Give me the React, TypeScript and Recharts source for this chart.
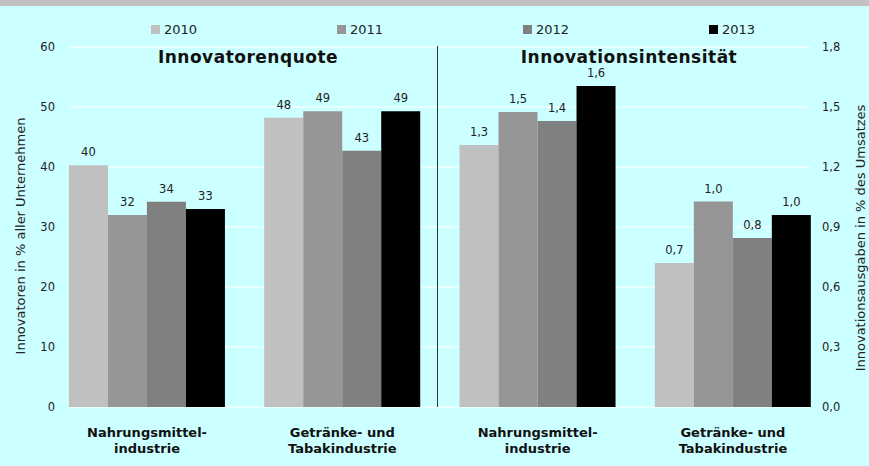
import React from 'react';
import { BarChart, Bar, XAxis, YAxis, CartesianGrid, LabelList } from 'recharts';

const categories = [
  'Nahrungsmittel-\nindustrie',
  'Getränke- und\nTabakindustrie',
  'Nahrungsmittel-\nindustrie',
  'Getränke- und\nTabakindustrie',
];
const years = ['2010', '2011', '2012', '2013'];
const colors = ['#c0c0c0', '#969696', '#808080', '#000000'];

// Innovatorenquote (%), per year 2010..2013
const quoteNahrung = [40.3, 32.0, 34.2, 33.0];
const quoteGetraenke = [48.2, 49.3, 42.7, 49.3];
// Innovationsintensität (% des Umsatzes), per year 2010..2013
const intensNahrung = [1.31, 1.475, 1.43, 1.605];
const intensGetraenke = [0.72, 1.027, 0.845, 0.96];

const leftTicks = [0, 10, 20, 30, 40, 50, 60];
const rightTicks = [0, 0.3, 0.6, 0.9, 1.2, 1.5, 1.8];
const panelTitles = ['Innovatorenquote', 'Innovationsintensität'];
const leftAxisTitle = 'Innovatoren in % aller Unternehmen';
const rightAxisTitle = 'Innovationsausgaben in % des Umsatzes';

const FONT = '"DejaVu Sans", Verdana, sans-serif';
const W = 869;
const H = 466;

const rows = categories.map((name, i) => {
  const row: Record<string, any> = { name };
  years.forEach((y, k) => {
    row[`L${y}`] = i === 0 ? quoteNahrung[k] : i === 1 ? quoteGetraenke[k] : null;
    row[`R${y}`] = i === 2 ? intensNahrung[k] : i === 3 ? intensGetraenke[k] : null;
  });
  return row;
});

const fmtLeft = (v: any) => (v == null ? '' : String(Math.round(Number(v))));
const fmtRight = (v: any) => (v == null ? '' : Number(v).toFixed(1).replace('.', ','));

const CategoryTick = (props: any) => {
  const { x, y, payload } = props;
  const lines = String(payload.value).split('\n');
  return (
    <text x={x} textAnchor="middle" fontFamily={FONT} fontWeight="bold" fontSize={13} fill="#111">
      {lines.map((l, i) => (
        <tspan key={i} x={x} y={y + 22 + i * 16}>
          {l}
        </tspan>
      ))}
    </text>
  );
};

export default function App() {
  return (
    <div style={{ position: 'relative', width: W, height: H, background: '#ccffff', overflow: 'hidden' }}>
      <style>{'body{margin:0}'}</style>
      <div style={{ position: 'absolute', left: 0, top: 0, width: W, height: 6, background: '#c0c0c0' }} />
      <div style={{ position: 'absolute', left: 0, top: 0 }}>
        <BarChart
          width={W}
          height={H}
          data={rows}
          margin={{ top: 47, right: 0, bottom: 0, left: 0 }}
          barCategoryGap="10%"
          barGap={0}
        >
          <CartesianGrid yAxisId="left" vertical={false} stroke="#ffffff" strokeWidth={1} />
          <XAxis
            dataKey="name"
            height={59}
            axisLine={false}
            tickLine={false}
            interval={0}
            padding={{ left: -19.6, right: -20.6 }}
            tick={<CategoryTick />}
          />
          <YAxis
            yAxisId="left"
            orientation="left"
            width={69}
            domain={[0, 60]}
            ticks={leftTicks}
            axisLine={false}
            tickLine={false}
            tickMargin={8}
            tick={{ fontFamily: FONT, fontSize: 11.5, fill: '#222' }}
          />
          <YAxis
            yAxisId="right"
            orientation="right"
            width={59}
            domain={[0, 1.8]}
            ticks={rightTicks}
            axisLine={false}
            tickLine={false}
            tickMargin={6}
            tickFormatter={(v: number) => v.toFixed(1).replace('.', ',')}
            tick={{ fontFamily: FONT, fontSize: 11.5, fill: '#222' }}
          />
          {years.map((y, k) => (
            <Bar
              key={`L${y}`}
              dataKey={`L${y}`}
              yAxisId="left"
              stackId={`s${y}`}
              fill={colors[k]}
              isAnimationActive={false}
            >
              <LabelList
                dataKey={`L${y}`}
                position="top"
                offset={9}
                formatter={fmtLeft}
                style={{ fontFamily: FONT, fontSize: 11.5, fill: '#222' }}
              />
            </Bar>
          ))}
          {years.map((y, k) => (
            <Bar
              key={`R${y}`}
              dataKey={`R${y}`}
              yAxisId="right"
              stackId={`s${y}`}
              fill={colors[k]}
              isAnimationActive={false}
            >
              <LabelList
                dataKey={`R${y}`}
                position="top"
                offset={9}
                formatter={fmtRight}
                style={{ fontFamily: FONT, fontSize: 11.5, fill: '#222' }}
              />
            </Bar>
          ))}
        </BarChart>
      </div>
      <svg
        width={W}
        height={H}
        style={{ position: 'absolute', left: 0, top: 0, pointerEvents: 'none' }}
        fontFamily={FONT}
      >
        {years.map((y, k) => (
          <g key={y}>
            <rect x={151 + k * 186} y={25} width={9} height={9} fill={colors[k]} />
            <text x={164 + k * 186} y={34} fontSize={13} fill="#222">
              {y}
            </text>
          </g>
        ))}
        <line x1={437.5} y1={46} x2={437.5} y2={407} stroke="#333" strokeWidth={1} />
        <text x={248} y={63} textAnchor="middle" fontSize={17} fontWeight="bold" fill="#111" letterSpacing={0.5}>
          {panelTitles[0]}
        </text>
        <text x={629} y={63} textAnchor="middle" fontSize={17} fontWeight="bold" fill="#111" letterSpacing={0.5}>
          {panelTitles[1]}
        </text>
        <text
          transform="translate(25,236) rotate(-90)"
          textAnchor="middle"
          fontSize={13}
          fill="#222"
        >
          {leftAxisTitle}
        </text>
        <text
          transform="translate(865,238) rotate(-90)"
          textAnchor="middle"
          fontSize={13}
          fill="#222"
        >
          {rightAxisTitle}
        </text>
      </svg>
    </div>
  );
}
